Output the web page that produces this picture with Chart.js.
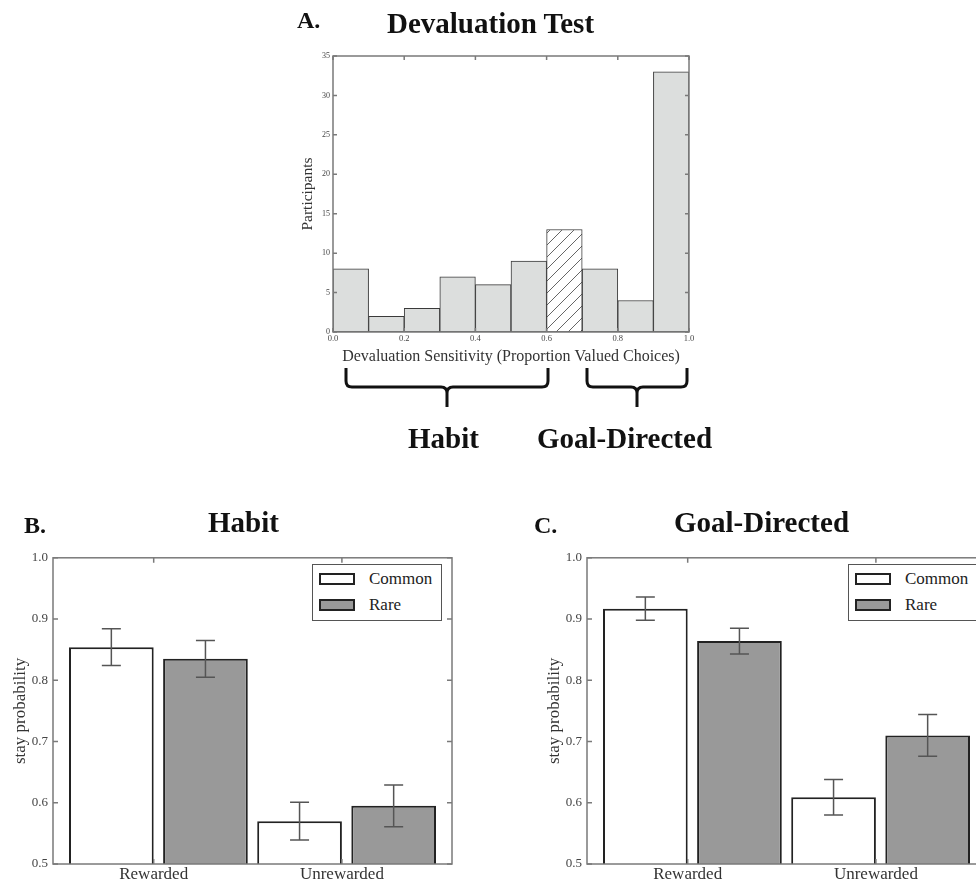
<!DOCTYPE html>
<html>
<head>
<meta charset="utf-8">
<script src="https://cdn.jsdelivr.net/npm/chart.js@4/dist/chart.umd.min.js"></script>
<style>
  html, body { margin: 0; padding: 0; overflow: hidden; background: #fff; }
  body { width: 976px; height: 885px; position: relative; font-family: "Liberation Serif", serif; }
  canvas { position: absolute; }
  #chartA { left: 290px; top: 46px; }
  #chartB { left: 0px; top: 545px; }
  #chartC { left: 534px; top: 545px; }
  .legend {
    position: absolute; top: 564px; width: 128px; height: 54px;
    border: 1.5px solid #555; background: #fff; padding-top: 1px;
  }
  .legend .row { height: 26px; display: flex; align-items: center; }
  .legend .patch { width: 32px; height: 8px; border: 2px solid #222; margin: 0 14px 0 6px; }
  .legend span { font-size: 17px; color: #222; }
  svg { position: absolute; left: 0; top: 0; pointer-events: none; }
</style>
</head>
<body>
<canvas id="chartA" width="410" height="320"></canvas>
<canvas id="chartB" width="462" height="340"></canvas>
<canvas id="chartC" width="462" height="340"></canvas>
<div class="legend" id="legendB" style="left:312px"></div>
<div class="legend" id="legendC" style="left:848px"></div>

<svg width="976" height="885" font-family="Liberation Serif, serif" font-weight="bold" fill="#111">
  <text x="297" y="28" font-size="24">A.</text>
  <text x="387" y="33" font-size="29">Devaluation Test</text>
  <path d="M346 368 L346 381 Q346 387 352 387 L441 387 Q447 387 447 393 L447 407 M447 393 Q447 387 453 387 L542 387 Q548 387 548 381 L548 368
           M587 368 L587 381 Q587 387 593 387 L631 387 Q637 387 637 393 L637 407 M637 393 Q637 387 643 387 L681 387 Q687 387 687 381 L687 368"
        fill="none" stroke="#111" stroke-width="3"/>
  <text x="408" y="448" font-size="29">Habit</text>
  <text x="537" y="448" font-size="29">Goal-Directed</text>
  <text x="24" y="533" font-size="24">B.</text>
  <text x="208" y="532" font-size="29">Habit</text>
  <text x="534" y="533" font-size="24">C.</text>
  <text x="674" y="532" font-size="29">Goal-Directed</text>
</svg>

<script>
// histogram: devaluation sensitivity
const histBinStart = [0.0, 0.1, 0.2, 0.3, 0.4, 0.5, 0.6, 0.7, 0.8, 0.9];
const histBinWidth = 0.1;
const histCounts = [8, 2, 3, 7, 6, 9, 13, 8, 4, 33];
const histHatchedBin = 6;

// stay probabilities
const categories = ["Rewarded", "Unrewarded"];
const seriesNames = ["Common", "Rare"];
const habitCommon = [0.854, 0.570];
const habitCommonErr = [0.030, 0.031];
const habitRare = [0.835, 0.595];
const habitRareErr = [0.030, 0.034];
const goalCommon = [0.917, 0.609];
const goalCommonErr = [0.019, 0.029];
const goalRare = [0.864, 0.710];
const goalRareErr = [0.021, 0.034];

const seriesColors = ["#ffffff", "#999999"];
const spineColor = "#7a7a7a";
const serif = "'Liberation Serif', serif";

Chart.defaults.font.family = serif;
Chart.defaults.animation = false;

const framePlugin = {
  id: "frame",
  afterDatasetsDraw(chart, args, opts) {
    const { ctx, chartArea: a, scales } = chart;
    const len = opts.tickLength;
    ctx.save();
    ctx.strokeStyle = spineColor;
    ctx.lineWidth = 1.5;
    ctx.strokeRect(a.left, a.top, a.right - a.left, a.bottom - a.top);
    ctx.beginPath();
    scales.x.ticks.forEach((t, i) => {
      const px = scales.x.getPixelForTick(i);
      ctx.moveTo(px, a.top);
      ctx.lineTo(px, a.top + len);
      ctx.moveTo(px, a.bottom);
      ctx.lineTo(px, a.bottom - len);
    });
    scales.y.ticks.forEach((t, i) => {
      const py = scales.y.getPixelForTick(i);
      ctx.moveTo(a.left, py);
      ctx.lineTo(a.left + len, py);
      ctx.moveTo(a.right, py);
      ctx.lineTo(a.right - len, py);
    });
    ctx.stroke();
    ctx.restore();
  },
};

const errorBarPlugin = {
  id: "errorBars",
  afterDatasetsDraw(chart) {
    const { ctx } = chart;
    const y = chart.scales.y;
    ctx.save();
    ctx.strokeStyle = "#555";
    ctx.lineWidth = 1.5;
    chart.data.datasets.forEach((ds, di) => {
      if (!ds.err) return;
      chart.getDatasetMeta(di).data.forEach((bar, i) => {
        const v = ds.data[i].y;
        const top = y.getPixelForValue(v + ds.err[i]);
        const bot = y.getPixelForValue(v - ds.err[i]);
        ctx.beginPath();
        ctx.moveTo(bar.x, top);
        ctx.lineTo(bar.x, bot);
        ctx.moveTo(bar.x - 9.5, top);
        ctx.lineTo(bar.x + 9.5, top);
        ctx.moveTo(bar.x - 9.5, bot);
        ctx.lineTo(bar.x + 9.5, bot);
        ctx.stroke();
      });
    });
    ctx.restore();
  },
};

function hatchPattern() {
  const c = document.createElement("canvas");
  c.width = 12;
  c.height = 12;
  const g = c.getContext("2d");
  g.fillStyle = "#ffffff";
  g.fillRect(0, 0, 12, 12);
  g.strokeStyle = "#555";
  g.lineWidth = 0.9;
  g.beginPath();
  g.moveTo(0, 12); g.lineTo(12, 0);
  g.moveTo(-6, 6); g.lineTo(6, -6);
  g.moveTo(6, 18); g.lineTo(18, 6);
  g.stroke();
  return g.createPattern(c, "repeat");
}

document.addEventListener("DOMContentLoaded", () => {
  const hatch = hatchPattern();

  new Chart(document.getElementById("chartA"), {
    type: "bar",
    data: {
      datasets: [
        {
          label: "Participants",
          data: histCounts.map((n, i) => ({ x: histBinStart[i] + histBinWidth / 2, y: n })),
          backgroundColor: histCounts.map((n, i) => (i === histHatchedBin ? hatch : "#dcdedd")),
          borderColor: "#3a3a3a",
          borderWidth: 1,
          borderSkipped: false,
          grouped: false,
          barPercentage: 1,
          categoryPercentage: 1,
        },
      ],
    },
    options: {
      responsive: false,
      layout: { padding: { left: 9, top: 10, right: 11, bottom: 0 } },
      plugins: { legend: { display: false }, tooltip: { enabled: false }, frame: { tickLength: 4 } },
      scales: {
        x: {
          type: "linear",
          offset: false,
          min: 0,
          max: 1,
          grid: { display: false, drawTicks: false },
          border: { display: false },
          ticks: { stepSize: 0.2, padding: 2, font: { size: 8.5 }, color: "#444", callback: (v) => v.toFixed(1) },
          title: {
            display: true,
            text: "Devaluation Sensitivity (Proportion Valued Choices)",
            font: { size: 16 },
            color: "#333",
            padding: { top: 0, bottom: 0 },
          },
          afterFit: (axis) => { axis.height = 34; },
        },
        y: {
          min: 0,
          max: 35,
          grid: { display: false, drawTicks: false },
          border: { display: false },
          ticks: { stepSize: 5, padding: 3, font: { size: 8 }, color: "#444" },
          title: { display: true, text: "Participants", font: { size: 15.5 }, color: "#333", padding: { top: 0, bottom: 0 } },
          afterFit: (axis) => { axis.width = 34; },
        },
      },
    },
    plugins: [framePlugin],
  });

  function stayChart(canvasId, legendId, commonVals, commonErr, rareVals, rareErr) {
    const offsets = [-0.225, 0.275];
    const vals = [commonVals, rareVals];
    const errs = [commonErr, rareErr];

    new Chart(document.getElementById(canvasId), {
      type: "bar",
      data: {
        datasets: seriesNames.map((name, s) => ({
          label: name,
          data: vals[s].map((v, i) => ({ x: i + offsets[s], y: v })),
          err: errs[s],
          backgroundColor: seriesColors[s],
          borderColor: "#222",
          borderWidth: 2,
          grouped: false,
          barPercentage: 0.9,
          categoryPercentage: 1,
        })),
      },
      options: {
        responsive: false,
        layout: { padding: { left: 10, top: 10, right: 10, bottom: 0 } },
        plugins: { legend: { display: false }, tooltip: { enabled: false }, frame: { tickLength: 5 } },
        scales: {
          x: {
            type: "linear",
            offset: false,
            min: -0.535,
            max: 1.585,
            grid: { display: false, drawTicks: false },
            border: { display: false },
            afterBuildTicks: (axis) => {
              axis.ticks = categories.map((c, i) => ({ value: i }));
            },
            ticks: { padding: 0, font: { size: 17 }, color: "#333", callback: (v) => categories[v] },
            afterFit: (axis) => { axis.height = 21; },
          },
          y: {
            min: 0.5,
            max: 1.0,
            grid: { display: false, drawTicks: false },
            border: { display: false },
            ticks: { stepSize: 0.1, padding: 5, font: { size: 13 }, color: "#444", callback: (v) => v.toFixed(1) },
            title: { display: true, text: "stay probability", font: { size: 17 }, color: "#333", padding: { top: 0, bottom: 0 } },
            afterFit: (axis) => { axis.width = 43; },
          },
        },
      },
      plugins: [framePlugin, errorBarPlugin],
    });

    const legend = document.getElementById(legendId);
    seriesNames.forEach((name, s) => {
      const row = document.createElement("div");
      row.className = "row";
      const patch = document.createElement("div");
      patch.className = "patch";
      patch.style.background = seriesColors[s];
      const label = document.createElement("span");
      label.textContent = name;
      row.appendChild(patch);
      row.appendChild(label);
      legend.appendChild(row);
    });
  }

  stayChart("chartB", "legendB", habitCommon, habitCommonErr, habitRare, habitRareErr);
  stayChart("chartC", "legendC", goalCommon, goalCommonErr, goalRare, goalRareErr);
});
</script>
</body>
</html>
